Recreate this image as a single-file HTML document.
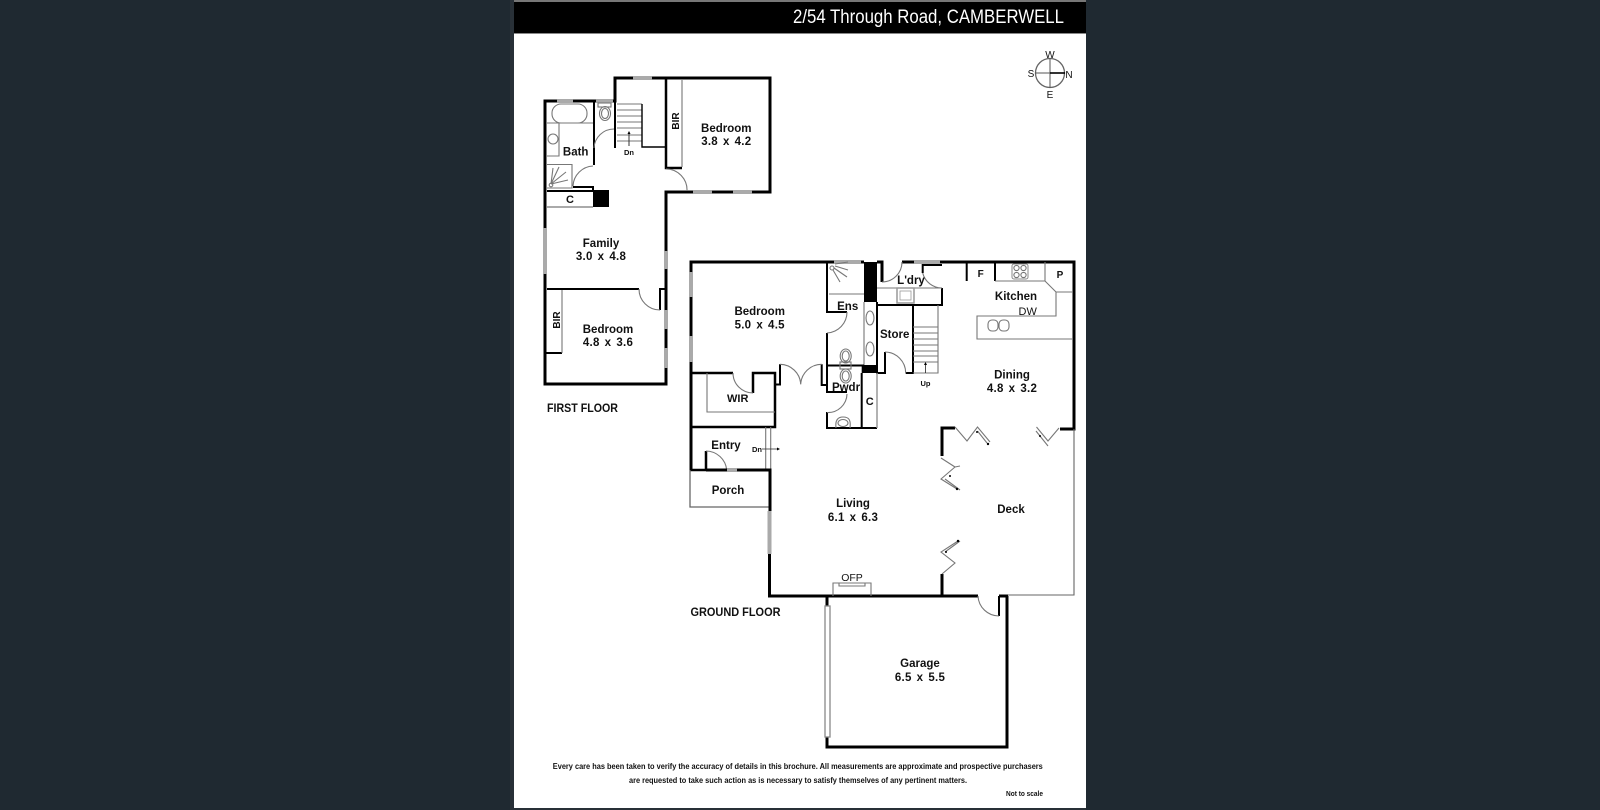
<!DOCTYPE html>
<html><head><meta charset="utf-8"><style>
html,body{margin:0;padding:0;background:#1f2931;width:1600px;height:810px;overflow:hidden}
svg{display:block}
text{font-family:"Liberation Sans",sans-serif;font-weight:bold;fill:#111;text-anchor:middle;font-size:11.5px}
.d{word-spacing:1.6px;letter-spacing:.25px}
.k{fill:none;stroke:#000;stroke-width:3}
.m{fill:none;stroke:#000;stroke-width:2}
.g{fill:none;stroke:#777;stroke-width:1.1}
.w{fill:none;stroke:#aaa;stroke-width:4}
.all{filter:blur(.3px)}
</style></head><body>
<svg width="1600" height="810" viewBox="0 0 1600 810" xmlns="http://www.w3.org/2000/svg">
<rect x="510" y="0" width="576" height="810" fill="#283037"/>
<rect x="514" y="0" width="572" height="2" fill="#777"/>
<rect x="514" y="2" width="572" height="806" fill="#fff"/>
<rect x="514" y="2" width="572" height="31" fill="#000"/>
<rect x="514" y="33" width="572" height="1" fill="#888"/>
<g class="all">
<text x="793" y="23" textLength="271" lengthAdjust="spacingAndGlyphs" style="fill:#fff;text-anchor:start;font-weight:normal;font-size:19px">2/54 Through Road, CAMBERWELL</text>

<!-- compass -->
<circle cx="1050" cy="73" r="14.5" fill="none" stroke="#666" stroke-width="1.3"/>
<path d="M1035,73H1050M1050,58V88" stroke="#555" stroke-width="1" fill="none"/>
<path d="M1050,73H1065" stroke="#000" stroke-width="1.6" fill="none"/>
<text x="1050" y="58" style="font-weight:normal;font-size:10px">W</text>
<text x="1069" y="78" style="font-weight:normal;font-size:10px">N</text>
<text x="1031" y="77" style="font-weight:normal;font-size:10px">S</text>
<text x="1050" y="98" style="font-weight:normal;font-size:10px">E</text>

<!-- FIRST FLOOR walls -->
<path class="k" d="M545,384V101H615V78H770V192H666V384H545Z"/>
<path class="w" d="M633,78H652M693,192H712M733,192H752M557,101H573M596,101H613M545,228V274M666,251V269M666,310V329M666,348V368"/>
<path class="m" d="M547,289H639M660,310V289H666M545,353H562"/>
<path class="k" style="stroke-width:2.5" d="M666,78V168H682"/>
<path class="g" d="M562,290V353M682,80V167"/>
<path class="g" d="M639,289A21,21 0 0 0 660,310M666,169A21,21 0 0 1 687,191"/>
<!-- bath -->
<rect x="552" y="104" width="35" height="19" rx="9" class="g"/>
<path class="g" d="M547,123H593M547,156H559V123"/>
<circle cx="553" cy="139" r="5" class="g"/>
<path class="m" d="M594,102V165M573,187H593V190"/>
<path class="g" d="M547,164.5H572V188H547M573,186A21,21 0 0 1 593,166"/>
<path class="g" d="M551,184L553,168M551,184L559,167M551,184L566,172M551,184L568,180"/>
<circle cx="551" cy="185" r="1.8" class="g"/>
<rect x="593" y="190" width="16" height="17" fill="#000"/>
<path class="m" d="M547,191H593"/>
<path d="M547,207H593" stroke="#aaa" stroke-width="2" fill="none"/>
<rect x="598" y="103" width="13" height="4" class="g"/>
<ellipse cx="605" cy="113.5" rx="5.5" ry="7" class="g"/>
<ellipse cx="605" cy="113.5" rx="3.5" ry="5" class="g"/>
<path class="g" d="M594,148A20,20 0 0 1 614,129"/>
<path class="m" d="M615,101V148"/>
<!-- stairs -->
<path class="g" d="M617,104H642M617,110H642M617,116H642M617,122H642M617,128H642M617,135H642M617,141H642"/>
<path d="M642,104V147H666" stroke="#000" stroke-width="1.4" fill="none"/>
<path d="M629,146V133" stroke="#333" stroke-width="1" fill="none"/>
<path d="M629,131l-1.5,3h3z" fill="#000"/>
<text x="629" y="155" style="font-size:7.5px">Dn</text>

<text x="675" y="121" transform="rotate(-90 675 121)" dy="4" style="font-size:10px">BIR</text>
<text x="556" y="320" transform="rotate(-90 556 320)" dy="4" style="font-size:10px">BIR</text>
<text x="726.3" y="132">Bedroom</text><text class="d" x="726.3" y="145">3.8 x 4.2</text>
<text x="575.7" y="155.5">Bath</text>
<text x="570" y="203" style="font-size:11px">C</text>
<text x="601" y="247">Family</text><text class="d" x="601" y="260">3.0 x 4.8</text>
<text x="608" y="333">Bedroom</text><text class="d" x="608" y="346">4.8 x 3.6</text>
<text x="582.5" y="412" textLength="71" lengthAdjust="spacingAndGlyphs">FIRST FLOOR</text>

<!-- GROUND FLOOR -->
<path class="k" d="M691,470V262H864M877,262H882V282M902,262H1074V429H1060"/>
<path class="w" d="M691,272V297M691,336V362M834,262H861M914,262H940"/>
<rect x="864" y="262" width="13" height="40" fill="#000"/>
<path class="g" d="M864,302V365M882,282A20,20 0 0 0 902,262"/>
<path class="k" style="stroke-width:2" d="M877,302V373H885V352M905.7,373H913V305M877,305H942V288M922.7,273V265H942"/>
<path class="g" d="M877,288H942M885,352A21,21 0 0 1 905.7,373M942,288A20,20 0 0 1 922.7,273"/>
<rect x="897" y="288" width="17" height="15" fill="none" stroke="#999" stroke-width="1.5"/>
<rect x="900" y="291" width="11" height="9" fill="none" stroke="#999" stroke-width=".8"/>
<ellipse cx="870" cy="318" rx="4" ry="7" class="g"/><ellipse cx="870" cy="349" rx="4" ry="7" class="g"/>
<!-- ens / pwdr -->
<path class="m" d="M827,262V312H847M827,333V392H847M827,412V428H877"/>
<path class="m" d="M827,365.5H864M861.7,373V428"/>
<rect x="861.7" y="365" width="15" height="8" fill="#000"/>
<path class="g" d="M829,294H864M847,312A21,21 0 0 1 827,333M847,394A19,19 0 0 1 827,412.5"/>
<path d="M877,373V428" stroke="#999" stroke-width="1.5" fill="none"/>
<circle cx="832" cy="268" r="2" class="g"/>
<path class="g" d="M833,270L840,282M834,268L847,277M835,266L848,270M835,264L848,262"/>
<ellipse cx="845.7" cy="356" rx="5.5" ry="7" class="g"/><ellipse cx="845.7" cy="356" rx="3.5" ry="5" class="g"/>
<ellipse cx="845.7" cy="376" rx="5.5" ry="7" class="g"/><ellipse cx="845.7" cy="376" rx="3.5" ry="5" class="g"/>
<rect x="840" y="362" width="11" height="7" class="g"/>
<path class="g" d="M836,428C835,420 838,417 843,417C849,417 851,420 850,428"/>
<ellipse cx="843" cy="423" rx="5" ry="3.5" class="g"/>
<!-- WIR -->
<path class="k" style="stroke-width:2.5" d="M691,373H733M753,393V373H775V427H691M691,427V470H706V451"/>
<path class="g" d="M733,373A20,20 0 0 0 753,393M707,373V412H775M706,451A21,21 0 0 1 726.7,470"/>
<path class="m" d="M775,384.5H780V364.3M821.7,364.3V385H827"/>
<path class="g" d="M780,364.3A21,21 0 0 1 800.7,384.3A21,21 0 0 1 821.7,364.3"/>
<path class="g" d="M765.7,427V470M770.7,427V470"/>
<path d="M762,449H778" stroke="#333" stroke-width=".8"/><path d="M780,449l-3,-1.5v3z" fill="#000"/>
<text x="757" y="452" style="font-size:7.5px">Dn</text>
<!-- porch / living walls -->
<path d="M690,470V507H769" stroke="#666" stroke-width="1.3" fill="none"/>
<path class="k" d="M706,470H727M737,470H770V511"/>
<path class="w" d="M727,470H737M769.5,511V554"/>
<path class="k" d="M769.5,554V596H978M999,596H1008"/>
<path class="k" d="M1007,596V747H827V737M827,606V596"/>
<rect x="825" y="606" width="5" height="131" fill="#fff" stroke="#888" stroke-width="1.3"/>
<path class="m" d="M999,596V616"/>
<path class="g" d="M978,596A21,21 0 0 0 999,616"/>
<path d="M1008,595H1074V429" stroke="#666" stroke-width="1.1" fill="none"/>
<!-- OFP -->
<path class="g" d="M833,596V583H871V596M839,583V586H865V583"/>
<!-- deck -->
<path class="k" d="M955,428H942V456M942,574V596"/>
<path class="g" d="M955,427L967,441L977.5,427L990,442M977.5,431L987,443"/>
<path class="g" d="M1059,428L1048,441L1036.5,427M1036,431L1048,446"/>
<path class="g" d="M941,458L955,467L941,479L957,489M945,479L960,490M955,467L960,466"/>
<path class="g" d="M942,574L955,563L941,552L958,541M945,552L960,541"/>
<circle cx="977" cy="432" r="1" fill="#000"/><circle cx="988" cy="444" r="1.2" fill="#000"/>
<circle cx="1040" cy="436" r="1" fill="#000"/><circle cx="950" cy="476" r="1" fill="#000"/><circle cx="957" cy="489" r="1.2" fill="#000"/>
<circle cx="946" cy="552" r="1" fill="#000"/><circle cx="958" cy="541" r="1.2" fill="#000"/>
<!-- stairs up -->
<path class="g" d="M938,305V373H913M913,327H938M913,333H938M913,339H938M913,345H938M913,351H938M913,356H938M913,362H938"/>
<path d="M925.5,373V365" stroke="#222" stroke-width=".8"/><path d="M925.5,362l-1.5,3h3z" fill="#000"/>
<text x="925.5" y="386" style="font-size:7.5px">Up</text>
<!-- kitchen -->
<path class="m" d="M966.7,262V281M995,262V281"/>
<path class="g" d="M995,281H1045L1056,292H1073M1045,262V281M1056,292V316H977V339H1073"/>
<rect x="1012" y="264" width="16" height="15" rx="2" fill="none" stroke="#888"/>
<circle cx="1016.5" cy="268" r="2.6" class="g"/><circle cx="1023.5" cy="268" r="2.6" class="g"/><circle cx="1016.5" cy="275" r="2.6" class="g"/><circle cx="1023.5" cy="275" r="2.6" class="g"/>
<rect x="988" y="320" width="10" height="11" rx="4" class="g"/><rect x="999" y="320" width="10" height="11" rx="4" class="g"/>

<text x="980.7" y="277" style="font-size:10px">F</text>
<text x="1060" y="278" style="font-size:10px">P</text>
<text x="759.7" y="315">Bedroom</text><text class="d" x="759.7" y="328.7">5.0 x 4.5</text>
<text x="847.7" y="310">Ens</text>
<text x="894.7" y="338">Store</text>
<text x="911" y="284">L'dry</text>
<text x="1016" y="300">Kitchen</text>
<text x="1027.7" y="315" style="font-size:11px;font-weight:normal">DW</text>
<text x="1012" y="378.3">Dining</text><text class="d" x="1012" y="392">4.8 x 3.2</text>
<text x="846" y="391">Pwdr</text>
<text x="869.7" y="405" style="font-size:11px">C</text>
<text x="737.7" y="402" style="font-size:11px">WIR</text>
<text x="726" y="449">Entry</text>
<text x="728" y="494">Porch</text>
<text x="853" y="507">Living</text><text class="d" x="853" y="521">6.1 x 6.3</text>
<text x="1011" y="513">Deck</text>
<text x="852" y="581" style="font-size:10.5px;font-weight:normal">OFP</text>
<text x="735.5" y="616" textLength="90" lengthAdjust="spacingAndGlyphs">GROUND FLOOR</text>
<text x="920" y="667">Garage</text><text class="d" x="920" y="681">6.5 x 5.5</text>

<text x="797.8" y="769" textLength="490" lengthAdjust="spacingAndGlyphs" style="font-size:8px">Every care has been taken to verify the accuracy of details in this brochure.  All measurements are approximate and prospective purchasers</text>
<text x="798" y="783" textLength="338" lengthAdjust="spacingAndGlyphs" style="font-size:8px">are requested to take such action as is necessary to satisfy themselves of any pertinent matters.</text>
<text x="1024.5" y="796" textLength="37" lengthAdjust="spacingAndGlyphs" style="font-size:7.5px">Not to scale</text>
</g>
</svg>
</body></html>
